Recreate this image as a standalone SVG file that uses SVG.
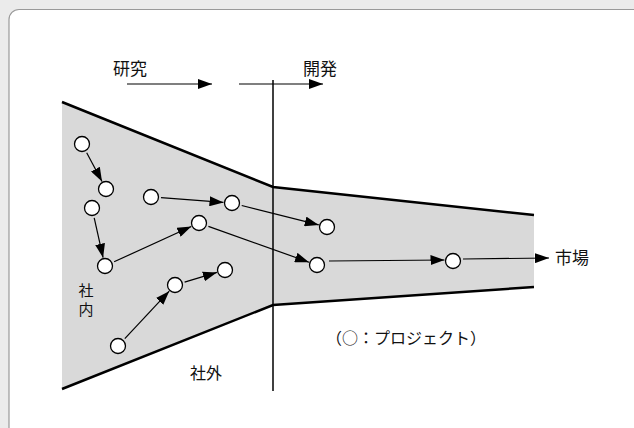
<svg xmlns="http://www.w3.org/2000/svg" width="634" height="428" viewBox="0 0 634 428">
<defs>
<marker id="ah" markerUnits="userSpaceOnUse" markerWidth="14" markerHeight="10" refX="14" refY="5" orient="auto">
<path d="M0,0 L14,5 L0,10 z" fill="#000"/>
</marker>
<style>
text{font-family:"Noto Sans CJK JP","Liberation Serif",sans-serif;fill:#111;}
.lbl{font-size:17px;}
.node circle{fill:#fff;stroke:#000;stroke-width:1.3;}
.conn line{stroke:#000;stroke-width:1.2;marker-end:url(#ah);}
.edge{fill:none;stroke:#000;stroke-width:2.5;}
</style>
</defs>
<rect x="0" y="0" width="634" height="428" fill="#ebebeb"/>
<rect x="9" y="9.5" width="640" height="440" rx="10" fill="#fff" stroke="#999" stroke-width="1.2"/>
<g id="funnel">
<polygon points="62,102 273,187 534,215 534,287 273,305 62,389" fill="#d9d9d9"/>
<polyline class="edge" points="62,102 273,187 534,215"/>
<polyline class="edge" points="62,389 273,305 534,287"/>
</g>
<line x1="273" y1="80" x2="273" y2="391" stroke="#000" stroke-width="1.5"/>
<g id="phase-arrows" class="conn">
<line x1="127" y1="84" x2="212" y2="84"/>
<line x1="239" y1="84" x2="323" y2="84"/>
</g>
<text class="lbl" x="130" y="75" text-anchor="middle">研究</text>
<text class="lbl" x="320" y="75" text-anchor="middle">開発</text>
<g id="connectors" class="conn">
<line x1="86.7" y1="152.8" x2="102" y2="181.5"/>
<line x1="94.2" y1="217.8" x2="103.1" y2="257.7"/>
<line x1="114.1" y1="261.8" x2="191.3" y2="226.5"/>
<line x1="161" y1="197.7" x2="223.5" y2="202.4"/>
<line x1="241.7" y1="205.5" x2="318.8" y2="224.9"/>
<line x1="208.4" y1="226.4" x2="309" y2="262.2"/>
<line x1="329" y1="261" x2="444.5" y2="260"/>
<line x1="463" y1="259" x2="549" y2="258"/>
<line x1="184.6" y1="282.1" x2="216.9" y2="272.4"/>
<line x1="124.8" y1="338.7" x2="169.2" y2="291.2"/>
</g>
<g id="pA" class="node"><circle cx="82" cy="144" r="7.5"/></g>
<g id="pB" class="node"><circle cx="106" cy="189" r="7.5"/></g>
<g id="pC" class="node"><circle cx="92" cy="208" r="7.5"/></g>
<g id="pD" class="node"><circle cx="105" cy="266" r="7.5"/></g>
<g id="pE" class="node"><circle cx="151" cy="197" r="7.5"/></g>
<g id="pF" class="node"><circle cx="232" cy="203" r="7.5"/></g>
<g id="pG" class="node"><circle cx="199" cy="223" r="7.5"/></g>
<g id="pH" class="node"><circle cx="225" cy="270" r="7.5"/></g>
<g id="pI" class="node"><circle cx="175" cy="285" r="7.5"/></g>
<g id="pJ" class="node"><circle cx="327" cy="227" r="7.5"/></g>
<g id="pK" class="node"><circle cx="317" cy="265" r="7.5"/></g>
<g id="pL" class="node"><circle cx="453" cy="261" r="7.5"/></g>
<g id="pM" class="node"><circle cx="118" cy="346" r="7.5"/></g>
<g id="market"><text class="lbl" x="555" y="264">市場</text></g>
<text font-size="15" x="86" y="296" text-anchor="middle">社</text>
<text font-size="15" x="86" y="315" text-anchor="middle">内</text>
<text font-size="16" x="206" y="379" text-anchor="middle">社外</text>
<text font-size="16" x="406" y="344" text-anchor="middle">（○：プロジェクト）</text>
</svg>
